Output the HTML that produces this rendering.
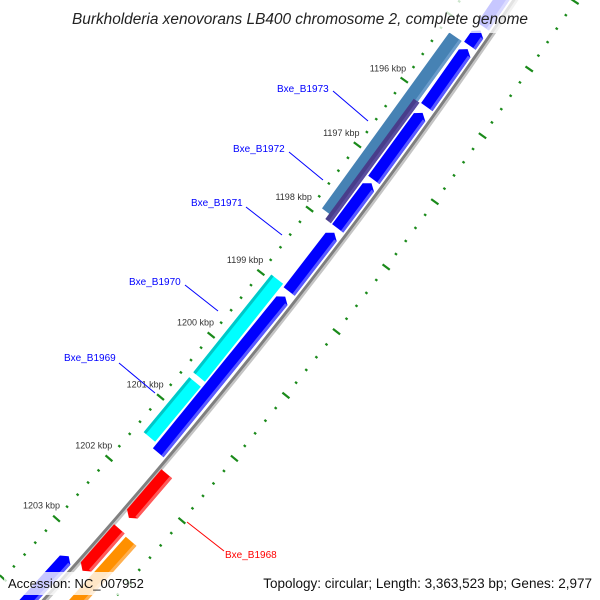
<!DOCTYPE html>
<html><head><meta charset="utf-8"><style>
html,body{margin:0;padding:0;background:#fff;overflow:hidden;}
svg{display:block;font-family:"Liberation Sans",sans-serif;}
</style></head><body>
<svg id="map" width="600" height="600" viewBox="0 0 600 600" xmlns="http://www.w3.org/2000/svg">
<g id="ticks"></g>
<g id="feats"></g>
<g id="labels">
<line x1="333" y1="91" x2="368" y2="121" stroke="#0000ff" stroke-width="1"/>
<text x="277" y="92" font-size="10" fill="#0000ff">Bxe_B1973</text>
<line x1="289" y1="152" x2="323" y2="180" stroke="#0000ff" stroke-width="1"/>
<text x="233" y="152" font-size="10" fill="#0000ff">Bxe_B1972</text>
<line x1="246" y1="207" x2="282" y2="235" stroke="#0000ff" stroke-width="1"/>
<text x="191" y="206" font-size="10" fill="#0000ff">Bxe_B1971</text>
<line x1="185" y1="285" x2="218" y2="311" stroke="#0000ff" stroke-width="1"/>
<text x="129" y="285" font-size="10" fill="#0000ff">Bxe_B1970</text>
<line x1="119" y1="363" x2="155" y2="393" stroke="#0000ff" stroke-width="1"/>
<text x="64" y="361" font-size="10" fill="#0000ff">Bxe_B1969</text>
<line x1="187" y1="522" x2="224" y2="551" stroke="#ff0000" stroke-width="1"/>
<text x="225" y="558" font-size="10" fill="#ff0000">Bxe_B1968</text>
</g>
<rect x="62" y="0" width="476" height="33" fill="#fff" fill-opacity="0.78"/>
<text x="300" y="24" font-size="15.4" font-style="italic" fill="#222" text-anchor="middle">Burkholderia xenovorans LB400 chromosome 2, complete genome</text>
<rect x="4" y="572" width="146" height="23" fill="#fff" fill-opacity="0.78"/>
<text x="8" y="588" font-size="13" fill="#111">Accession: NC_007952</text>
<rect x="255" y="572" width="341" height="23" fill="#fff" fill-opacity="0.78"/>
<text x="592" y="588" font-size="13.5" fill="#111" text-anchor="end">Topology: circular; Length: 3,363,523 bp; Genes: 2,977</text>
</svg>
<script>
// Data (kbp)
const majorTicks = [1196,1197,1198,1199,1200,1201,1202,1203];
const tickLabels = ["1196 kbp","1197 kbp","1198 kbp","1199 kbp","1200 kbp","1201 kbp","1202 kbp","1203 kbp"];
const blueStarts = [1194.0, 1194.95, 1195.23, 1196.2, 1197.28, 1198.05, 1199.05, 1203.25];
const blueEnds   = [1194.89, 1195.18, 1196.11, 1197.23, 1197.98, 1198.97, 1201.55, 1204.8];
const geneStarts = [1195.19];
const geneEnds   = [1197.9];
const purpleStarts = [1196.12];
const purpleEnds   = [1197.98];
const cyanStarts = [1198.94, 1200.58];
const cyanEnds   = [1200.5, 1201.47];
const redStarts = [1201.68, 1202.58];
const redEnds   = [1202.4, 1203.27];
const orangeStarts = [1202.6];
const orangeEnds   = [1204.5];

// Axis (circular map) functions
const CX = -3956, CY = -3020, RB = 5394, PHI0 = 0.6704, MID = 1199.5, K = 0.014953;
function pt(kbp, off){
  const a = PHI0 + (kbp - MID) * K, r = RB + off;
  return [CX + r*Math.cos(a), CY + r*Math.sin(a)];
}
const NS = "http://www.w3.org/2000/svg";
function mk(tag, attrs, parent){
  const e = document.createElementNS(NS, tag);
  for (const k in attrs) e.setAttribute(k, attrs[k]);
  parent.appendChild(e); return e;
}
const gT = document.getElementById('ticks');
const gF = document.getElementById('feats');

function arcPath(a, b, off){
  let d = '';
  for (let k = a; k <= b + 1e-9; k += 0.25){ const p = pt(k, off); d += (d ? 'L' : 'M') + p[0].toFixed(1) + ',' + p[1].toFixed(1); }
  return d;
}
const sh = mk('path', {d: arcPath(1192, 1207, 3.2), stroke: '#c4c4c4', 'stroke-width': 2.2, fill: 'none'}, gT);


const bb = mk('path', {d: arcPath(1192, 1207, 0.5), stroke: '#808080', 'stroke-width': 3, fill: 'none'}, gT);



for (let i = 0; i <= 70; i++){
  const k = 1193.4 + i * 0.2;
  const isMajor = Math.abs(k - Math.round(k)) < 1e-6;
  [-44, 52].forEach(function(off){
    const len = isMajor ? 4.5 : 1.3;
    const p1 = pt(k, off - len), p2 = pt(k, off + len);
    const t = mk('line', {x1: p1[0], y1: p1[1], x2: p2[0], y2: p2[1], stroke: '#1a8a1a', 'stroke-width': 2.2}, gT);
    
    
  });
}
majorTicks.forEach(function(k, i){
  const p = pt(k, -64);
  const t = mk('text', {x: p[0], y: p[1] + 3, 'font-size': 9, fill: '#333', 'text-anchor': 'middle'}, gT);
  t.textContent = tickLabels[i];
  
  
});

function band(a, b, off, w, head, fill, edge, edgeSide, name){
  const hw = w / 2, h = 0.065;
  let pts = [];
  if (head === 'start'){
    pts = [pt(a, off), pt(a + h, off - hw), pt(b, off - hw), pt(b, off + hw), pt(a + h, off + hw)];
  } else if (head === 'end'){
    pts = [pt(a, off - hw), pt(b - h, off - hw), pt(b, off), pt(b - h, off + hw), pt(a, off + hw)];
  } else {
    pts = [pt(a, off - hw), pt(b, off - hw), pt(b, off + hw), pt(a, off + hw)];
  }
  const g = mk('g', {}, gF);
  
  
  mk('polygon', {points: pts.map(function(p){return p[0].toFixed(1)+','+p[1].toFixed(1);}).join(' '), fill: fill}, g);
  if (edge){
    const s = edgeSide * hw, s2 = edgeSide * (hw - 3);
    const aa = head === 'start' ? a + h : a, bb2 = head === 'end' ? b - h : b;
    const ep = [pt(aa, off + s2), pt(bb2, off + s2), pt(bb2, off + s), pt(aa, off + s)];
    mk('polygon', {points: ep.map(function(p){return p[0].toFixed(1)+','+p[1].toFixed(1);}).join(' '), fill: edge}, g);
  }
}
blueStarts.forEach(function(s, i){ band(s, blueEnds[i], -10, 14, 'start', '#0000ff', '#5a5aff', 1, 'reverse-gene-arrow'); });
geneStarts.forEach(function(s, i){ band(s, geneEnds[i], -27, 15, null, '#4682b4', '#6a9ccb', 1, 'gene-bar'); });
purpleStarts.forEach(function(s, i){ band(s, purpleEnds[i], -22, 7, null, '#483d8b', '#5a4ea0', 1, 'gene-bar-overlap'); });
cyanStarts.forEach(function(s, i){ band(s, cyanEnds[i], -27, 15, null, '#00ffff', '#00c8c8', -1, 'cyan-gene-bar'); });
redStarts.forEach(function(s, i){ band(s, redEnds[i], 10, 14, 'end', '#ff0000', '#ff5a5a', 1, 'forward-gene-arrow'); });
orangeStarts.forEach(function(s, i){ band(s, orangeEnds[i], 27, 14, 'end', '#ff9000', '#ffb050', 1, 'orange-gene-arrow'); });
</script>
</body></html>
